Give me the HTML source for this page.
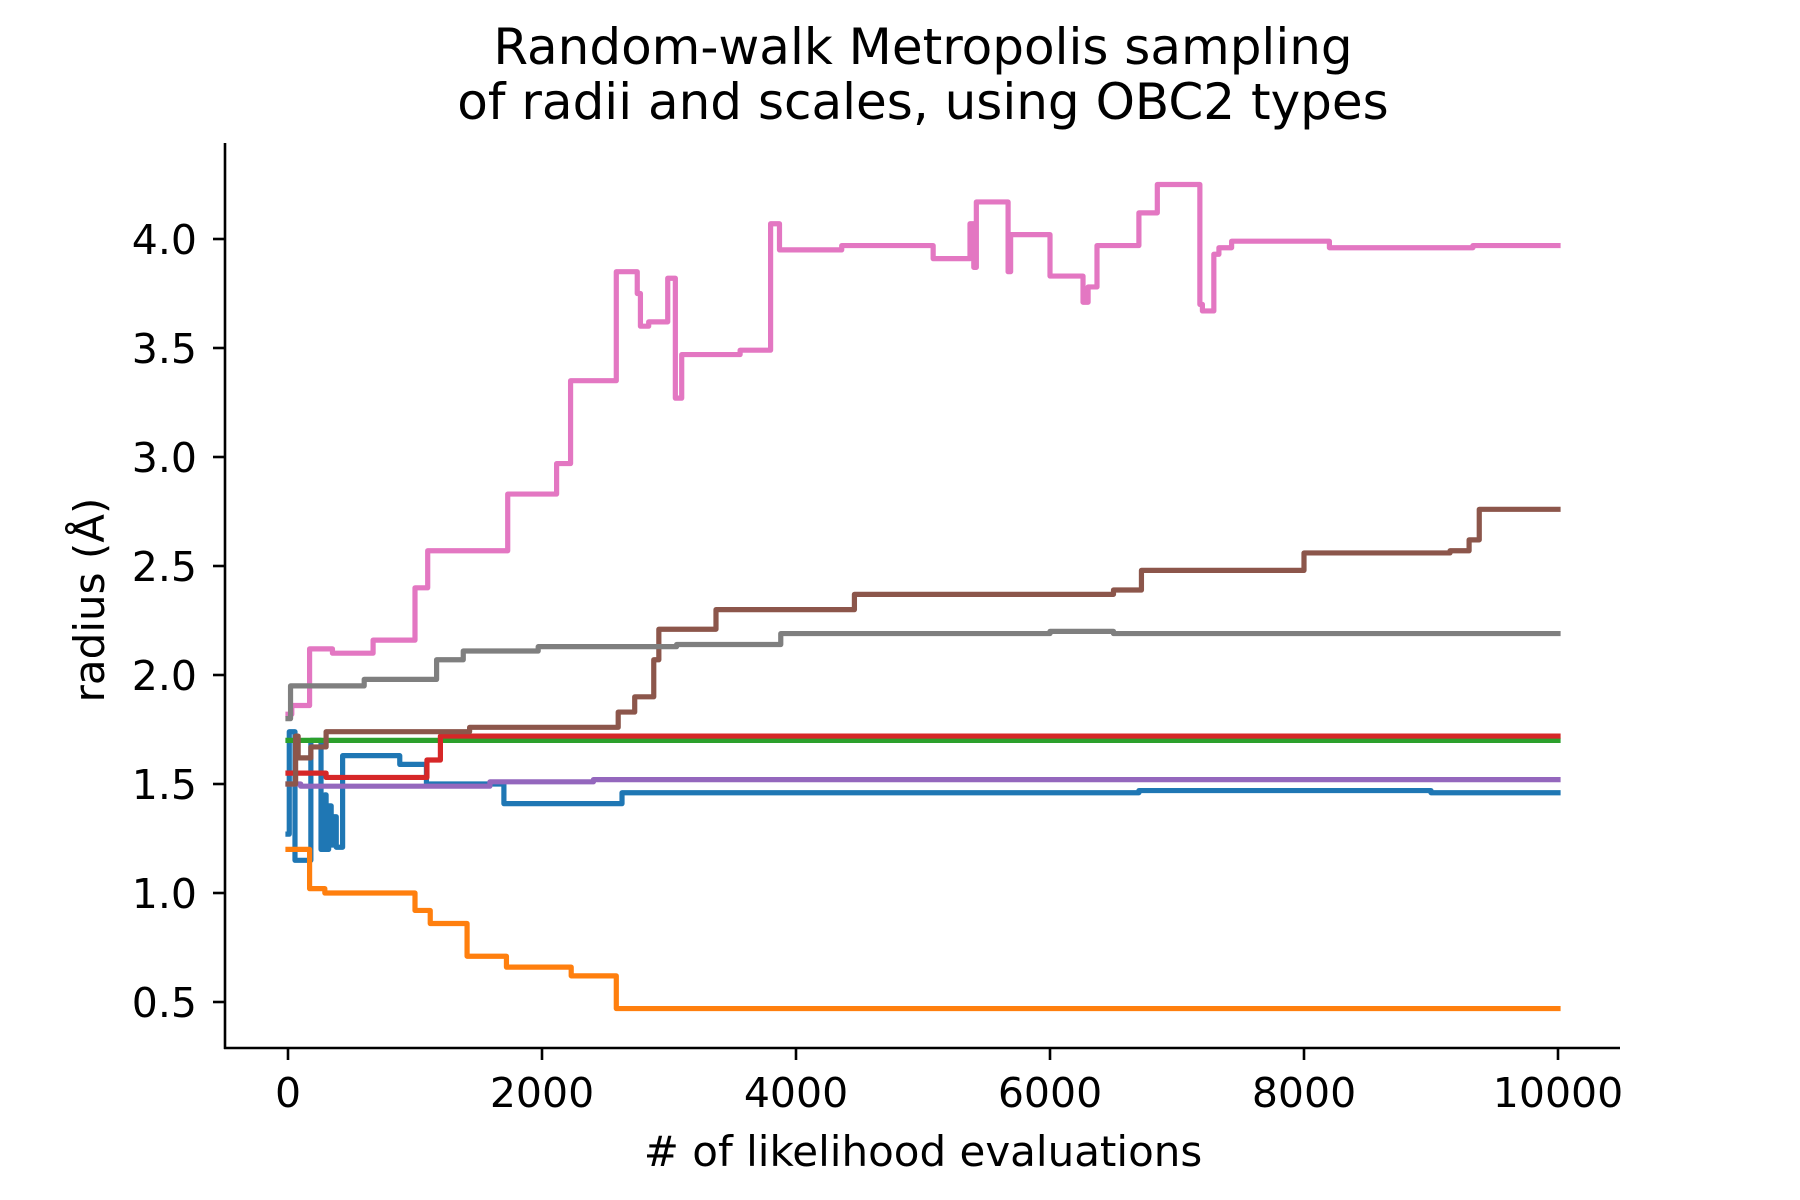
<!DOCTYPE html>
<html><head><meta charset="utf-8">
<style>
body{margin:0;background:#fff;}
svg{display:block;font-family:"DejaVu Sans","Liberation Sans",sans-serif;}
</style></head>
<body>
<svg id="chart" width="1800" height="1200" viewBox="0 0 1800 1200" xmlns="http://www.w3.org/2000/svg">
<rect width="1800" height="1200" fill="#fff"/>
<text x="923" y="64" font-size="50" text-anchor="middle">Random-walk Metropolis sampling</text>
<text x="923" y="119" font-size="50" text-anchor="middle">of radii and scales, using OBC2 types</text>
<g id="series"></g>
<g id="axes"></g>
<text x="923" y="1166" font-size="42" text-anchor="middle"># of likelihood evaluations</text>
<text transform="translate(104,600) rotate(-90)" font-size="42" text-anchor="middle">radius (Å)</text>
</svg>
<script>
const xTicks=[0,2000,4000,6000,8000,10000];
const yTicks=[0.5,1.0,1.5,2.0,2.5,3.0,3.5,4.0];
const seriesNames=["blue","orange","green","red","purple","brown","pink","gray"];
const blueX=[0,10,55,180,260,290,300,320,340,360,380,430,880,1090,1700,2630,6700,9000,10000];
const blueY=[1.27,1.74,1.15,1.70,1.20,1.45,1.20,1.40,1.22,1.35,1.21,1.63,1.59,1.50,1.41,1.46,1.47,1.46,1.46];
const orangeX=[0,170,290,1000,1120,1410,1720,2230,2585,10000];
const orangeY=[1.20,1.02,1.00,0.92,0.86,0.71,0.66,0.62,0.47,0.47];
const greenX=[0,10000];
const greenY=[1.70,1.70];
const redX=[0,300,1094,1200,10000];
const redY=[1.55,1.53,1.61,1.72,1.72];
const purpleX=[0,100,1590,2405,10000];
const purpleY=[1.50,1.49,1.51,1.52,1.52];
const brownX=[0,60,80,180,300,1430,2600,2730,2880,2920,3370,4460,6500,6720,8000,9150,9300,9380,10000];
const brownY=[1.50,1.72,1.62,1.67,1.74,1.76,1.83,1.90,2.07,2.21,2.30,2.37,2.39,2.48,2.56,2.57,2.62,2.76,2.76];
const pinkX=[0,30,170,350,670,1000,1100,1730,2115,2225,2585,2750,2775,2840,2990,3050,3100,3560,3800,3870,4360,5080,5370,5400,5420,5670,5690,6000,6260,6300,6370,6700,6845,7180,7200,7290,7330,7430,8200,9330,10000];
const pinkY=[1.82,1.86,2.12,2.10,2.16,2.40,2.57,2.83,2.97,3.35,3.85,3.75,3.60,3.62,3.82,3.27,3.47,3.49,4.07,3.95,3.97,3.91,4.07,3.87,4.17,3.85,4.02,3.83,3.71,3.78,3.97,4.12,4.25,3.70,3.67,3.93,3.96,3.99,3.96,3.97,3.97];
const grayX=[0,20,600,1170,1380,1970,3060,3880,6000,6500,10000];
const grayY=[1.80,1.95,1.98,2.07,2.11,2.13,2.14,2.19,2.20,2.19,2.19];
const colors=["#1f77b4","#ff7f0e","#2ca02c","#d62728","#9467bd","#8c564b","#e377c2","#7f7f7f"];
const allX=[blueX,orangeX,greenX,redX,purpleX,brownX,pinkX,grayX];
const allY=[blueY,orangeY,greenY,redY,purpleY,brownY,pinkY,grayY];

const NS="http://www.w3.org/2000/svg";
const X0=288,X1=1558,Y1v=1.0,Y1p=893,YPER=218;
function sx(v){return X0+(v/10000)*(X1-X0);}
function sy(v){return Y1p-(v-Y1v)*YPER;}

const sg=document.getElementById('series');
allX.forEach((xs,i)=>{
  const ys=allY[i];
  let d="M"+sx(xs[0])+","+sy(ys[0]);
  for(let k=1;k<xs.length;k++){d+=" H"+sx(xs[k])+" V"+sy(ys[k]);}
  const p=document.createElementNS(NS,'path');
  p.setAttribute('d',d);p.setAttribute('fill','none');
  p.setAttribute('stroke',colors[i]);p.setAttribute('stroke-width','5.2');
  p.setAttribute('stroke-linejoin','round');p.setAttribute('stroke-linecap','square');
  
  
  sg.appendChild(p);
});

const ag=document.getElementById('axes');
function line(x1,y1,x2,y2,name){
  const l=document.createElementNS(NS,'line');
  l.setAttribute('x1',x1);l.setAttribute('y1',y1);l.setAttribute('x2',x2);l.setAttribute('y2',y2);
  l.setAttribute('stroke','#000');l.setAttribute('stroke-width','2.6');
  
  
  ag.appendChild(l);
}
function text(x,y,s,anchor,name){
  const t=document.createElementNS(NS,'text');
  t.setAttribute('x',x);t.setAttribute('y',y);t.setAttribute('font-size','41');
  t.setAttribute('text-anchor',anchor);t.textContent=s;
  
  
  ag.appendChild(t);
}
line(225,143,225,1049,'y-axis-spine');
line(224,1048,1620,1048,'x-axis-spine');
xTicks.forEach(v=>{line(sx(v),1048,sx(v),1060,'x-tick');text(sx(v),1107,String(v),'middle','x-tick-label');});
yTicks.forEach(v=>{line(213,sy(v),225,sy(v),'y-tick');text(197,sy(v)+15,v.toFixed(1),'end','y-tick-label');});
</script>
</body></html>
